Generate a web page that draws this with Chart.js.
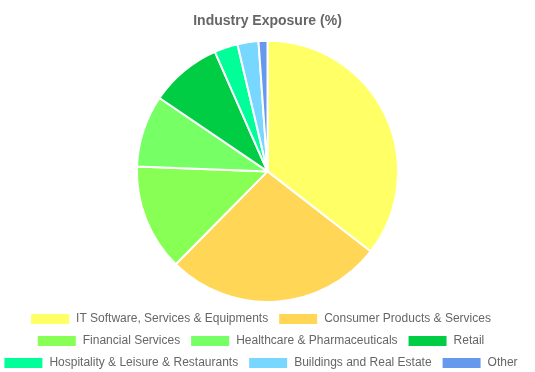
<!DOCTYPE html>
<html>
<head>
<meta charset="utf-8">
<script src="https://cdn.jsdelivr.net/npm/chart.js@4/dist/chart.umd.min.js"></script>
<style>
  html, body { margin: 0; padding: 0; background: #fff; }
  #wrap { width: 535px; height: 372px; }
</style>
</head>
<body>
<div id="wrap"><canvas id="pieChart"></canvas></div>
<script>
'use strict';

let industryNames = [
  'IT Software, Services & Equipments',
  'Consumer Products & Services',
  'Financial Services',
  'Healthcare & Pharmaceuticals',
  'Retail',
  'Hospitality & Leisure & Restaurants',
  'Buildings and Real Estate',
  'Other'
];
let exposureValues = [35.5, 26.9, 13.2, 8.9, 8.9, 2.9, 2.6, 1.1];
let sliceColors = ['#ffff66', '#ffd655', '#88ff55', '#77ff66', '#00cc44', '#00ff99', '#77d7ff', '#6699ee'];

Chart.defaults.font.family = 'Arial, "Liberation Sans", sans-serif';
Chart.defaults.color = '#666';

// old-style legend sits a little left of centre
let legendNudge = {
  id: 'legendNudge',
  afterLayout(chart) {
    chart.legend.left -= 7;
    chart.legend.right -= 7;
  }
};

let ctx = document.getElementById('pieChart').getContext('2d');
// eslint-disable-next-line no-unused-vars
let pieChart = new Chart(ctx, {
  type: 'pie',
  data: {
    labels: industryNames,
    datasets: [{
      data: exposureValues,
      backgroundColor: sliceColors,
      borderColor: '#fff',
      borderWidth: 2
    }]
  },
  options: {
    responsive: true,
    maintainAspectRatio: false,
    animation: false,
    layout: { padding: { bottom: -7 } },
    plugins: {
      title: {
        display: true,
        text: 'Industry Exposure (%)',
        font: { size: 14, weight: 'bold' },
        padding: { top: 13, bottom: 10 }
      },
      legend: {
        position: 'bottom',
        labels: { boxWidth: 40, boxHeight: 12, font: { size: 12 } }
      },
      tooltip: { enabled: false }
    }
  },
  plugins: [legendNudge]
});
</script>
</body>
</html>
